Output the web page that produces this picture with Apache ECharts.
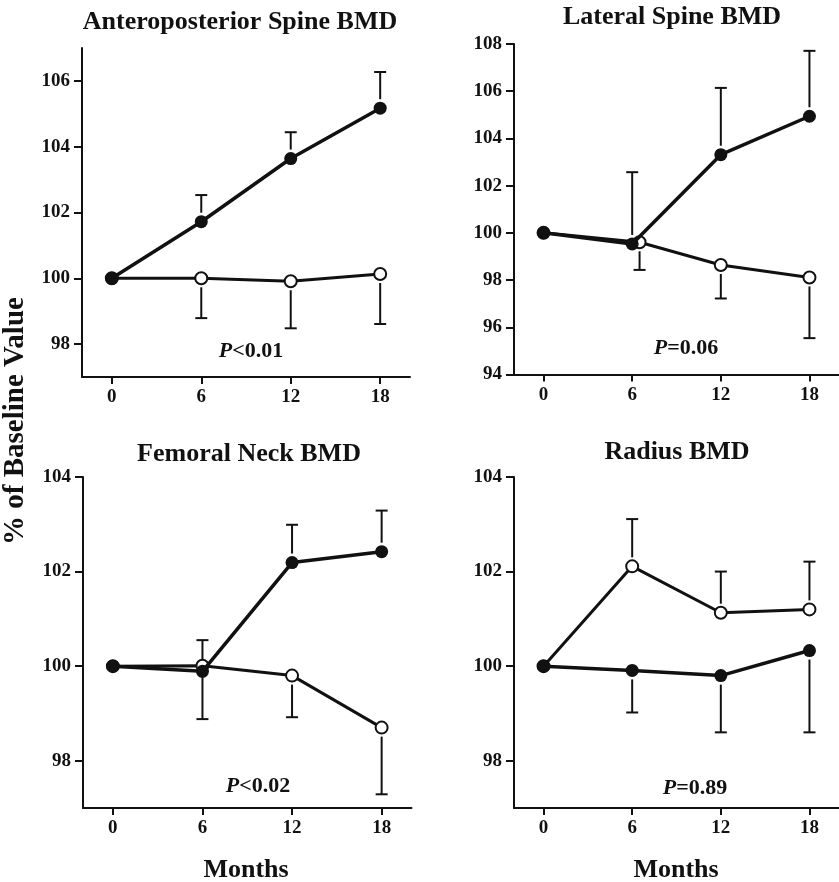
<!DOCTYPE html>
<html>
<head>
<meta charset="utf-8">
<script src="https://cdn.jsdelivr.net/npm/echarts@6/dist/echarts.min.js"></script>
<style>
  html, body { margin: 0; padding: 0; background: #ffffff; }
  #chart { width: 839px; height: 882px; }
</style>
</head>
<body>
<div id="chart"></div>
<script>
// ---- Data ----
const months = [0, 6, 12, 18];
const xTicks = [0, 6, 12, 18];

const panelTitles = ['Anteroposterior Spine BMD', 'Lateral Spine BMD', 'Femoral Neck BMD', 'Radius BMD'];
const pLabels = [['<', '0.01'], ['=', '0.06'], ['<', '0.02'], ['=', '0.89']];

// Anteroposterior spine
const apFilled    = [100, 101.72, 103.64, 105.17];
const apFilledErr = [null, 102.53, 104.44, 106.27];
const apOpen      = [100, 100.00, 99.91, 100.13];
const apOpenErr   = [null, 98.79, 98.48, 98.61];
const apYTicks    = [98, 100, 102, 104, 106];

// Lateral spine
const latFilled    = [100, 99.53, 103.31, 104.94];
const latFilledErr = [null, 102.57, 106.14, 107.71];
const latOpenMonths = [0, 6.5, 12, 18];
const latOpen      = [100, 99.60, 98.64, 98.11];
const latOpenErr   = [null, 98.43, 97.22, 95.54];
const latYTicks    = [94, 96, 98, 100, 102, 104, 106, 108];

// Femoral neck
const femFilled    = [100, 99.89, 102.19, 102.42];
const femFilledErr = [null, 100.55, 102.99, 103.29];
const femOpen      = [100, 100.01, 99.80, 98.70];
const femOpenErr   = [null, 98.88, 98.92, 97.29];
const femYTicks    = [98, 100, 102, 104];

// Radius
const radFilled    = [100, 99.91, 99.80, 100.33];
const radFilledErr = [null, 99.02, 98.60, 98.60];
const radOpen      = [100, 102.11, 101.13, 101.20];
const radOpenErr   = [null, 103.11, 102.00, 102.21];
const radYTicks    = [98, 100, 102, 104];

// ---- Build ----
const FONT = '"Liberation Serif", "Times New Roman", serif';
const INK = '#111';

const panels = [
  { grid: { left: 82, top: 48, width: 328, height: 329 }, yMin: 97, yMax: 107, yTicks: apYTicks,
    filled: apFilled, filledErr: apFilledErr, openX: months, open: apOpen, openErr: apOpenErr },
  { grid: { left: 514, top: 44, width: 330, height: 330.5 }, yMin: 94, yMax: 108, yTicks: latYTicks,
    filled: latFilled, filledErr: latFilledErr, openX: latOpenMonths, open: latOpen, openErr: latOpenErr },
  { grid: { left: 83, top: 477, width: 328.5, height: 331 }, yMin: 97, yMax: 104, yTicks: femYTicks,
    filled: femFilled, filledErr: femFilledErr, openX: months, open: femOpen, openErr: femOpenErr },
  { grid: { left: 514, top: 477, width: 330, height: 331 }, yMin: 97, yMax: 104, yTicks: radYTicks,
    filled: radFilled, filledErr: radFilledErr, openX: months, open: radOpen, openErr: radOpenErr }
];

const axisLineStyle = { color: INK, width: 2 };
const labelStyle = { color: INK, fontFamily: FONT, fontWeight: 'bold', fontSize: 19 };

const grids = [], xAxes = [], yAxes = [], series = [];

function errRender(params, api) {
  const x = api.value(0), y = api.value(1), e = api.value(2);
  const p0 = api.coord([x, y]);
  const p1 = api.coord([x, e]);
  const dir = p1[1] > p0[1] ? 1 : -1;
  const start = p0[1] + dir * 9;
  return {
    type: 'group',
    children: [
      { type: 'line', shape: { x1: p0[0], y1: start, x2: p0[0], y2: p1[1] },
        style: { stroke: INK, lineWidth: 2 } },
      { type: 'line', shape: { x1: p0[0] - 6, y1: p1[1], x2: p0[0] + 6, y2: p1[1] },
        style: { stroke: INK, lineWidth: 2 } }
    ]
  };
}

panels.forEach((p, i) => {
  grids.push(Object.assign({ containLabel: false }, p.grid));
  xAxes.push({
    type: 'value', gridIndex: i, min: -2, max: 20,
    axisLine: { show: true, onZero: false, lineStyle: axisLineStyle },
    axisTick: { show: true, length: 7, lineStyle: { color: INK, width: 2 }, customValues: xTicks },
    axisLabel: Object.assign({ margin: 11, customValues: xTicks }, labelStyle),
    splitLine: { show: false }
  });
  yAxes.push({
    type: 'value', gridIndex: i, min: p.yMin, max: p.yMax,
    axisLine: { show: true, onZero: false, lineStyle: axisLineStyle },
    axisTick: { show: true, length: 8, lineStyle: { color: INK, width: 2 }, customValues: p.yTicks },
    axisLabel: Object.assign({ margin: 12, customValues: p.yTicks }, labelStyle),
    splitLine: { show: false }
  });

  const filledErrData = months.map((m, k) => [m, p.filled[k], p.filledErr[k]]).filter(d => d[2] != null);
  const openErrData = p.openX.map((m, k) => [m, p.open[k], p.openErr[k]]).filter(d => d[2] != null);

  series.push({
    type: 'custom', xAxisIndex: i, yAxisIndex: i, renderItem: errRender,
    data: filledErrData, z: 1, silent: true
  });
  series.push({
    type: 'custom', xAxisIndex: i, yAxisIndex: i, renderItem: errRender,
    data: openErrData, z: 1, silent: true
  });
  series.push({
    type: 'line', xAxisIndex: i, yAxisIndex: i,
    data: p.openX.map((m, k) => [m, p.open[k]]),
    symbol: 'circle', symbolSize: 12,
    lineStyle: { color: INK, width: 3 },
    itemStyle: { color: '#fff', borderColor: INK, borderWidth: 2 },
    z: 3, animation: false
  });
  series.push({
    type: 'line', xAxisIndex: i, yAxisIndex: i,
    data: months.map((m, k) => [m, p.filled[k]]),
    symbol: 'circle', symbolSize: 13,
    lineStyle: { color: INK, width: 3.5 },
    itemStyle: { color: INK, borderColor: INK, borderWidth: 0 },
    z: 4, animation: false
  });
});

const titlePos = [[240, 22], [672, 17], [249, 454], [677, 452]];
const pPos = [[251, 351], [686, 348], [258, 786], [695, 788]];

const graphics = [];
panelTitles.forEach((t, i) => {
  graphics.push({
    type: 'text', x: titlePos[i][0], y: titlePos[i][1],
    style: { text: t, fill: INK, font: 'bold 26px ' + FONT, textAlign: 'center', textVerticalAlign: 'middle' }
  });
  graphics.push({
    type: 'text', x: pPos[i][0], y: pPos[i][1],
    style: {
      text: '{i|P}{n|' + pLabels[i][0] + pLabels[i][1] + '}',
      textAlign: 'center', textVerticalAlign: 'middle',
      rich: {
        i: { fontFamily: FONT, fontStyle: 'italic', fontWeight: 'bold', fontSize: 22, fill: INK, color: INK },
        n: { fontFamily: FONT, fontWeight: 'bold', fontSize: 22, fill: INK, color: INK }
      }
    }
  });
});
graphics.push({
  type: 'text', x: 246, y: 870,
  style: { text: 'Months', fill: INK, font: 'bold 26px ' + FONT, textAlign: 'center', textVerticalAlign: 'middle' }
});
graphics.push({
  type: 'text', x: 676, y: 870,
  style: { text: 'Months', fill: INK, font: 'bold 26px ' + FONT, textAlign: 'center', textVerticalAlign: 'middle' }
});
graphics.push({
  type: 'text', x: 16, y: 421, rotation: Math.PI / 2,
  style: { text: '% of Baseline Value', fill: INK, font: 'bold 29px ' + FONT, textAlign: 'center', textVerticalAlign: 'middle' }
});

const chart = echarts.init(document.getElementById('chart'), null, { renderer: 'canvas' });
chart.setOption({
  backgroundColor: '#ffffff',
  animation: false,
  grid: grids,
  xAxis: xAxes,
  yAxis: yAxes,
  series: series,
  graphic: graphics
});
</script>
</body>
</html>
